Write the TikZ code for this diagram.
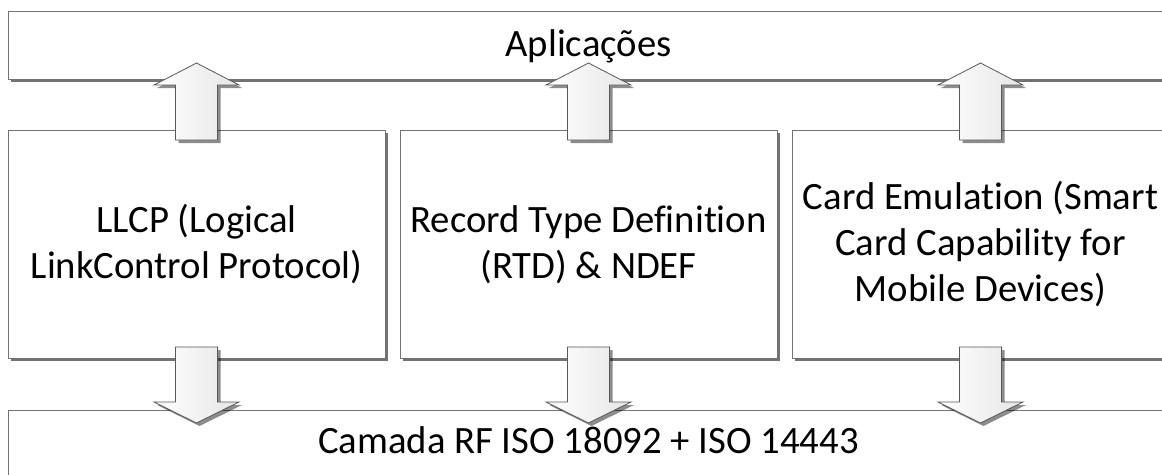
\documentclass[tikz,border=0pt]{standalone}
\usepackage{fontspec}
\setmainfont{Carlito}[Ligatures=NoCommon]
\usetikzlibrary{shadows}

\tikzset{
  layerbox/.style={
    draw=black!55, line width=1pt, fill=white,
    drop shadow={shadow xshift=2.5pt, shadow yshift=-2.5pt, fill=black, opacity=0.55},
    inner sep=0pt, outer sep=0pt, align=center,
    font=\fontsize{38.7pt}{46pt}\selectfont,
    text depth=0pt
  },
  blockarrow/.style={
    draw=black!65, line width=0.8pt, left color=white, right color=black!10,
    drop shadow={shadow xshift=3pt, shadow yshift=-3pt, fill=black, opacity=0.45}
  },
  % block arrow pointing up, origin at the bottom middle of the shaft
  uparrow/.pic={
    \path[blockarrow] (-21,0) -- (-21,-55) -- (-42.5,-55) -- (0,-77)
      -- (42.5,-55) -- (21,-55) -- (21,0) -- cycle;
  },
  % block arrow pointing down, origin at the top middle of the shaft
  downarrow/.pic={
    \path[blockarrow] (-21,0) -- (-21,55) -- (-42.5,55) -- (0,76)
      -- (42.5,55) -- (21,55) -- (21,0) -- cycle;
  }
}

\begin{document}
\begin{tikzpicture}[x=1pt, y=-1pt]
  \useasboundingbox (0,0) rectangle (1162,474);
  \clip (0,0) rectangle (1162,474);

  % layers
  \node[layerbox, minimum width=1161pt, minimum height=68pt, text height=23.5pt]
    (apps) at (588.5,45) {Aplicações};
  \node[layerbox, minimum width=377pt, minimum height=228pt, text height=69.5pt]
    (llcp) at (196.5,244) {LLCP (Logical\\LinkControl Protocol)};
  \node[layerbox, minimum width=377pt, minimum height=228pt, text height=69.5pt]
    (rtd) at (588.5,244) {Record Type Definition\\(RTD) \& NDEF};
  \node[layerbox, minimum width=377pt, minimum height=228pt, text height=115.5pt]
    (card) at (980.5,244) {Card Emulation (Smart\\Card Capability for\\Mobile Devices)};
  \node[layerbox, minimum width=1161pt, minimum height=70pt, text height=23.5pt, text depth=7pt]
    (rf) at (588.5,445) {Camada RF ISO 18092 + ISO 14443};

  % arrows up to the application layer
  \pic at ([yshift=-10pt]llcp.north) {uparrow};
  \pic at ([yshift=-10pt]rtd.north) {uparrow};
  \pic at ([yshift=-10pt]card.north) {uparrow};

  % arrows down to the RF layer
  \pic at ([yshift=11pt]llcp.south) {downarrow};
  \pic at ([yshift=11pt]rtd.south) {downarrow};
  \pic at ([yshift=11pt]card.south) {downarrow};
\end{tikzpicture}
\end{document}
